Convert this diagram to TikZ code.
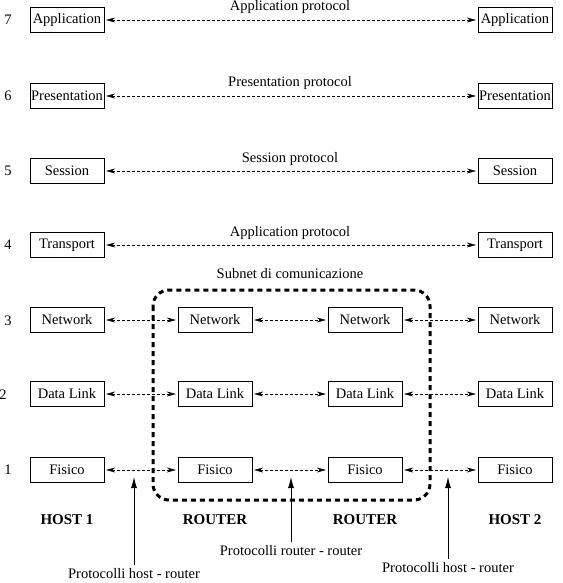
\documentclass[tikz,border=0pt]{standalone}
\usepackage{fontspec}
\setmainfont{Liberation Serif}
\usetikzlibrary{arrows.meta,positioning}

\begin{document}
\begin{tikzpicture}[x=1pt, y=-1pt, font=\fontsize{14.5}{17}\selectfont]
 \tikzset{
layer/.style = {rectangle, draw=black, minimum width=74pt, minimum height=25pt, inner sep=1pt},
peer/.style = {dash pattern=on 3pt off 2pt, shorten <=2pt, shorten >=2pt,
   {Stealth[length=9pt,width=5pt]}-{Stealth[length=9pt,width=5pt]}},
pointer/.style = {line width=0.8pt, -{Latex[length=11pt,width=6pt]}},
subnet/.style = {line width=3pt, dash pattern=on 5pt off 4pt, rounded corners=16pt},
machine/.style = {font=\fontsize{15}{17}\selectfont\bfseries}}

\useasboundingbox (0,0) rectangle (562,583);

      % numero di livello
      \node (N7) at (8,20) {7};
      \node (N6) at (8,96) {6};
      \node (N5) at (8,171) {5};
      \node (N4) at (8,245) {4};
      \node (N3) at (8,321) {3};
      \node (N2) at (3,395) {2};
      \node (N1) at (8,470) {1};

      % host 1
      \node [layer] (App1)   at (67,20)  {Application};
      \node [layer] (Pres1)  at (67,96)  {Presentation};
      \node [layer] (Sess1)  at (67,171) {Session};
      \node [layer] (Trans1) at (67,245) {Transport};
      \node [layer] (Net1)   at (67,320) {Network};
      \node [layer] (DL1)    at (67,394) {Data Link};
      \node [layer] (Fis1)   at (67,470) {Fisico};

      % router
      \node [layer] (NetR1) at (215,320) {Network};
      \node [layer] (DLR1)  at (215,394) {Data Link};
      \node [layer] (FisR1) at (215,470) {Fisico};
      \node [layer] (NetR2) at (365,320) {Network};
      \node [layer] (DLR2)  at (365,394) {Data Link};
      \node [layer] (FisR2) at (365,470) {Fisico};

      % host 2
      \node [layer] (App2)   at (515,20)  {Application};
      \node [layer] (Pres2)  at (515,96)  {Presentation};
      \node [layer] (Sess2)  at (515,171) {Session};
      \node [layer] (Trans2) at (515,245) {Transport};
      \node [layer] (Net2)   at (515,320) {Network};
      \node [layer] (DL2)    at (515,394) {Data Link};
      \node [layer] (Fis2)   at (515,470) {Fisico};

      \node (PApp)   at (290,7)   {Application protocol};
      \node (PPres)  at (290,83)  {Presentation protocol};
      \node (PSess)  at (290,159) {Session protocol};
      \node (PTrans) at (290,233) {Application protocol};

      \draw [peer] (App1) -- (App2);
      \draw [peer] (Pres1) -- (Pres2);
      \draw [peer] (Sess1) -- (Sess2);
      \draw [peer] (Trans1) -- (Trans2);

      \draw [peer] (Net1) -- (NetR1);
      \draw [peer] (NetR1) -- (NetR2);
      \draw [peer] (NetR2) -- (Net2);
      \draw [peer] (DL1) -- (DLR1);
      \draw [peer] (DLR1) -- (DLR2);
      \draw [peer] (DLR2) -- (DL2);
      \draw [peer] (Fis1) -- (FisR1);
      \draw [peer] (FisR1) -- (FisR2);
      \draw [peer] (FisR2) -- (Fis2);

      \draw [subnet] (153,290) rectangle (430,500);
      \node (Sub) at (290,274) {Subnet di comunicazione};

      \node [machine] (Host1) at (67,520)  {HOST 1};
      \node [machine] (Rout1) at (215,520) {ROUTER};
      \node [machine] (Rout2) at (365,520) {ROUTER};
      \node [machine] (Host2) at (515,520) {HOST 2};

      \coordinate (T1) at (134,477);
      \coordinate (T2) at (291,477);
      \coordinate (T3) at (448,477);
      \node (HR1) at (134,574) {Protocolli host - router};
      \node (RR)  at (291,551) {Protocolli router - router};
      \node (HR2) at (448,568) {Protocolli host - router};

      \draw [pointer] (HR1.north) -- (T1);
      \draw [pointer] (RR.north) -- (T2);
      \draw [pointer] (HR2.north) -- (T3);

  \end{tikzpicture}
\end{document}
